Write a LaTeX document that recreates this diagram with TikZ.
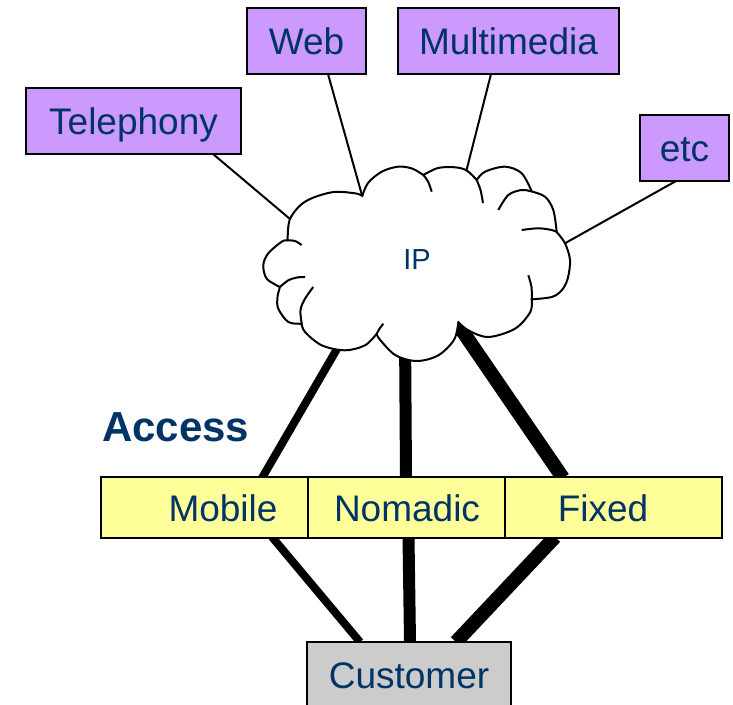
\documentclass[tikz,border=0pt]{standalone}
\usepackage{fontspec}
\setmainfont{Liberation Sans}

\definecolor{txtblue}{HTML}{003366}
\definecolor{svcpurple}{HTML}{CC99FF}
\definecolor{accyellow}{HTML}{FFFF99}
\definecolor{custgray}{HTML}{CCCCCC}

\pgfdeclarelayer{back}
\pgfsetlayers{back,main}

\tikzset{
  svcbox/.style={draw=black, line width=2pt, fill=svcpurple, minimum height=66pt,
    inner sep=0pt, text=txtblue, font=\fontsize{37}{40}\selectfont,
    text height=26.5pt, text depth=0pt},
  accbox/.style={draw=black, line width=2pt, fill=accyellow, minimum height=61pt, inner sep=0pt},
  acclabel/.style={inner sep=0pt, text=txtblue, font=\fontsize{37}{40}\selectfont,
    text height=26.5pt, text depth=0pt},
  custbox/.style={draw=black, line width=2pt, fill=custgray, minimum height=66pt,
    inner sep=0pt, text=txtblue, font=\fontsize{37}{40}\selectfont,
    text height=26.5pt, text depth=0pt},
  cloudline/.style={draw=black, line width=2pt, line join=round},
  bump/.style={smooth, tension=0.55},
  thinlink/.style={draw=black, line width=2pt},
  mobilelink/.style={draw=black, line width=8pt},
  nomadiclink/.style={draw=black, line width=12pt},
  fixedlink/.style={draw=black, line width=14pt},
}

\begin{document}
\begin{tikzpicture}[x=1pt, y=-1pt]
\useasboundingbox (0,0) rectangle (733,704);
\clip (0,0) rectangle (733,704);

% IP cloud: outline made of bumps, then the inner tails of the bumps
\filldraw[cloudline, fill=white] (287.7,240.3)
  -- plot[bump] coordinates {(287.7,240.3) (290,219) (305,201.7) (331.7,192.3) (355,193.3) (362.3,196)}
  -- plot[bump] coordinates {(362.3,196) (368,183) (381.7,171.7) (398,166.7) (412,168.5) (423.3,175)}
  -- plot[bump] coordinates {(423.3,175) (438,168) (455,167.3) (466.7,170.5) (476.7,180)}
  -- plot[bump] coordinates {(476.7,180) (485,171.7) (505,166.7) (521.7,173.3) (531.7,191.5)}
  -- plot[bump] coordinates {(531.7,191.5) (545,196.7) (553.3,210) (556.7,232)}
  -- plot[bump] coordinates {(556.7,232) (565,243.3) (570,260) (567.7,278.7) (561.7,290.3) (551.7,297) (531.7,299.3)}
  -- plot[bump] coordinates {(531.7,299.3) (530.3,312) (515,328.7) (488.3,337) (468.3,330.3) (458.3,322)}
  -- plot[bump] coordinates {(458.3,322) (454.2,339.5) (438.5,355.2) (417,361) (395.5,355.2) (379.8,339.5) (376.7,333.7)}
  -- plot[bump] coordinates {(376.7,333.7) (365,345.3) (345,350.3) (321.7,345.3) (305,332) (301.7,323.7)}
  -- plot[bump] coordinates {(301.7,323.7) (288.3,322) (278.3,308.7) (277.5,297) (280,287)}
  -- plot[bump] coordinates {(280,287) (266.7,278.7) (263.3,265) (268.3,253.3) (281.7,241.7) (287.7,240.3)}
  -- cycle;
\draw[cloudline] plot[bump] coordinates {(423.3,175) (428,181.5) (431.7,191.7)};
\draw[cloudline] plot[bump] coordinates {(476.7,180) (480.5,190) (483,203)};
\draw[cloudline] plot[bump] coordinates {(531.7,191.5) (521.7,190) (508.3,195) (498.3,210)};
\draw[cloudline] plot[bump] coordinates {(556.7,232) (551.7,230) (538.3,228.3) (521.7,230)};
\draw[cloudline] plot[bump] coordinates {(531.7,299.3) (531.5,287) (528.3,275.3)};
\draw[cloudline] plot[bump] coordinates {(376.7,333.7) (380,328) (383.3,323.7)};
\draw[cloudline] plot[bump] coordinates {(301.7,323.7) (300.5,310) (305,298.7) (313.3,287)};
\draw[cloudline] plot[bump] coordinates {(280,287) (288.3,280.3) (297,277.5) (305,277)};
\draw[cloudline] plot[bump] coordinates {(287.7,240.3) (295,241) (301.7,245)};

\node[inner sep=0pt, text=txtblue, font=\fontsize{29}{32}\selectfont,
  text height=21pt, text depth=0pt] (ip) at (417,258.5) {IP};

% services
\node[svcbox, minimum width=215pt] (tel) at (133.5,121) {Telephony};
\node[svcbox, minimum width=119pt] (web) at (306.5,41) {Web};
\node[svcbox, minimum width=221pt] (mm) at (508.5,41) {Multimedia};
\node[svcbox, minimum width=89pt] (etc) at (684.5,148) {etc};

% access layer
\node[anchor=base west, inner sep=0pt, text=txtblue,
  font=\bfseries\fontsize{42}{45}\selectfont] (acc) at (102,441) {Access};
\node[accbox, minimum width=207pt] (mob) at (204.5,507.5) {};
\node[accbox, minimum width=197pt] (nom) at (406.5,507.5) {};
\node[accbox, minimum width=217pt] (fix) at (613.5,507.5) {};
\node[acclabel] (mobt) at (223,508) {Mobile};
\node[acclabel] (nomt) at (407,508) {Nomadic};
\node[acclabel] (fixt) at (603,508) {Fixed};

% customer
\node[custbox, minimum width=204pt] (cust) at (409,675) {Customer};

% connector end points
\coordinate (tel-b) at (213,154);   \coordinate (tel-c) at (297.6,225.4);
\coordinate (web-b) at (328,74);    \coordinate (web-c) at (365,206);
\coordinate (mm-b)  at (491,74);    \coordinate (mm-c)  at (463,184);
\coordinate (etc-b) at (676,181);   \coordinate (etc-c) at (553,250);
\coordinate (mob-c) at (348,330);   \coordinate (mob-t) at (262,478);
\coordinate (nom-c) at (405,330);   \coordinate (nom-t) at (406,478);
\coordinate (fix-c) at (448,310);   \coordinate (fix-t) at (563,478);
\coordinate (mob-b) at (272,537);   \coordinate (cust-l) at (360,642);
\coordinate (nom-b) at (408.5,537); \coordinate (cust-m) at (410,642);
\coordinate (fix-b) at (555,537);   \coordinate (cust-r) at (456,642);

\begin{pgfonlayer}{back}
  \draw[thinlink] (tel-b) -- (tel-c);
  \draw[thinlink] (web-b) -- (web-c);
  \draw[thinlink] (mm-b) -- (mm-c);
  \draw[thinlink] (etc-b) -- (etc-c);
  \draw[mobilelink] (mob-c) -- (mob-t);
  \draw[nomadiclink] (nom-c) -- (nom-t);
  \draw[fixedlink] (fix-c) -- (fix-t);
  \draw[mobilelink] (mob-b) -- (cust-l);
  \draw[nomadiclink] (nom-b) -- (cust-m);
  \draw[fixedlink] (fix-b) -- (cust-r);
\end{pgfonlayer}
\end{tikzpicture}
\end{document}
